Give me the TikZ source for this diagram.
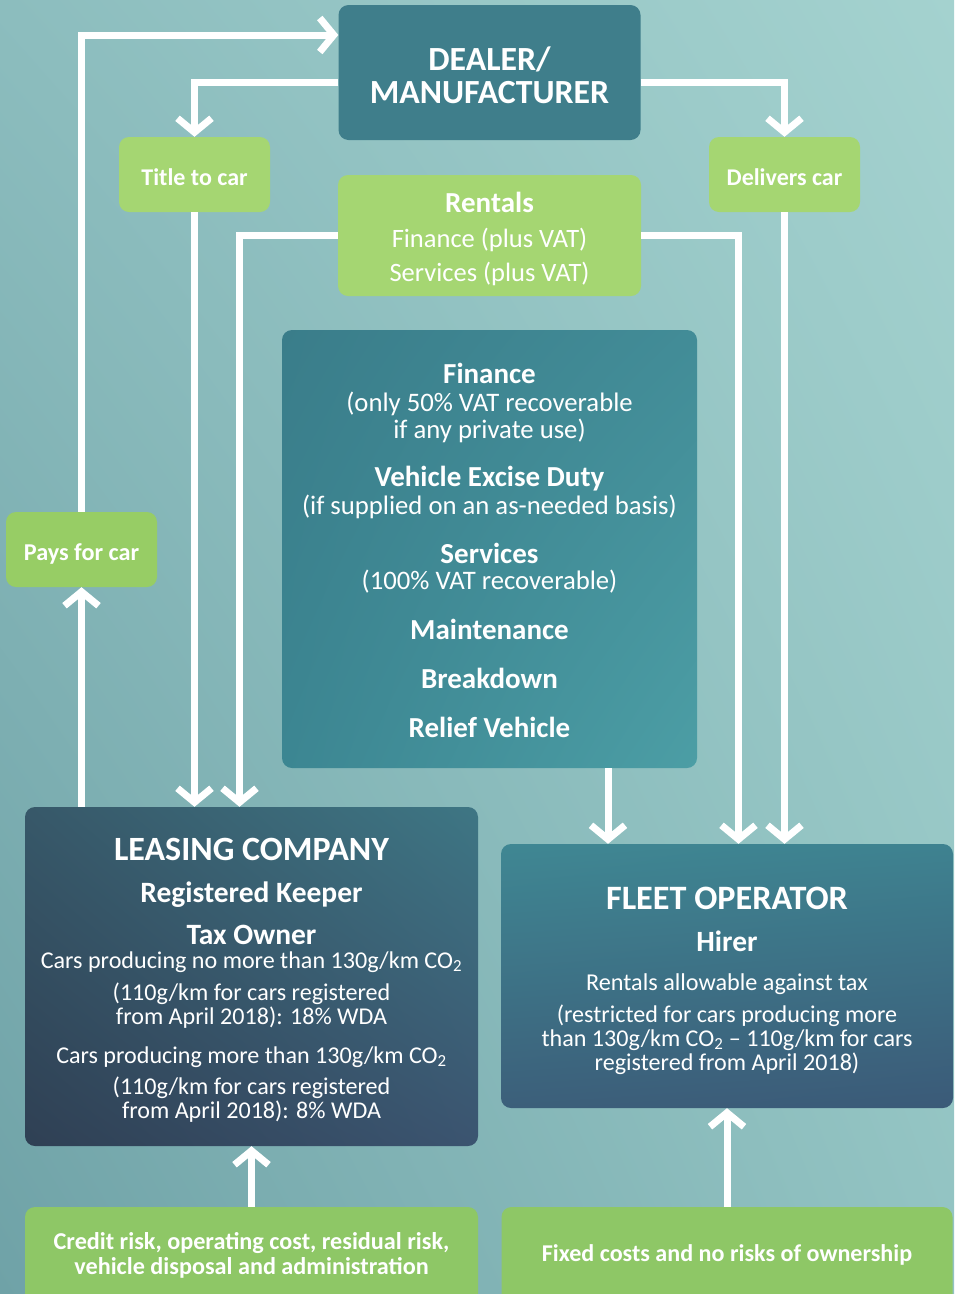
\documentclass[tikz,border=0pt]{standalone}
\usepackage{fontspec}
\setmainfont{Carlito}
\usetikzlibrary{arrows.meta,shadings}
\newcommand\fsz[1]{\fontsize{#1}{#1}\selectfont}

\definecolor{bgUL}{HTML}{8CBDBE}
\definecolor{bgUR}{HTML}{A4D2CF}
\definecolor{bgLL}{HTML}{6FA2A7}
\definecolor{bgLR}{HTML}{92C3C2}
\definecolor{leafA}{HTML}{A5D672}
\definecolor{leafB}{HTML}{97CD65}
\definecolor{leafC}{HTML}{8EC766}
\definecolor{dealerC}{HTML}{3F7E8B}
\definecolor{svUL}{RGB}{58,125,138}
\definecolor{svUR}{RGB}{66,140,151}
\definecolor{svLL}{RGB}{60,134,146}
\definecolor{svLR}{RGB}{76,158,165}
\definecolor{leUL}{RGB}{55,88,105}
\definecolor{leUR}{RGB}{62,118,132}
\definecolor{leLL}{RGB}{47,64,84}
\definecolor{leLR}{RGB}{59,84,112}
\definecolor{flUL}{RGB}{63,135,147}
\definecolor{flUR}{RGB}{62,130,144}
\definecolor{flLL}{RGB}{60,95,122}
\definecolor{flLR}{RGB}{59,90,120}

\begin{document}
\begin{tikzpicture}[x=1pt,y=-1pt,
  conn/.style={draw=white, line width=7pt, -{Straight Barb[length=14pt,width=34pt]}},
  card/.style={rounded corners=10pt, inner sep=0pt, draw=none},
  leaf/.style={card, fill=#1},
  quad/.style n args={4}{shading=bilinear interpolation, upper left=#1, upper right=#2, lower left=#3, lower right=#4},
  txt/.style={text=white, inner sep=0pt, anchor=base, yshift=-1pt},
  hd/.style={txt, font=\bfseries\fsz{#1}},
  rg/.style={txt, font=\fsz{#1}},
]
\clip (0,0) rectangle (954,1294);
\useasboundingbox (0,0) rectangle (954,1294);

% backdrop
\shade[quad={bgUL}{bgUR}{bgLL}{bgLR}] (0,0) rectangle (954,1294);

% boxes
\node[card, fill=dealerC, minimum width=302pt, minimum height=135pt] (dealer) at (489.5,72.5) {};
\node[leaf=leafA, minimum width=151pt, minimum height=75pt] (title) at (194.5,174.5) {};
\node[leaf=leafA, minimum width=151pt, minimum height=75pt] (deliv) at (784.5,174.5) {};
\node[leaf=leafA, minimum width=303pt, minimum height=121pt] (rentals) at (489.5,235.5) {};
\node[card, shade, quad={svUL}{svUR}{svLL}{svLR}, minimum width=415pt, minimum height=438pt] (svc) at (489.5,549) {};
\node[leaf=leafB, minimum width=151pt, minimum height=75pt] (pays) at (81.5,549.5) {};
\node[card, shade, quad={leUL}{leUR}{leLL}{leLR}, minimum width=453pt, minimum height=339pt] (lease) at (251.5,976.5) {};
\node[card, shade, quad={flUL}{flUR}{flLL}{flLR}, minimum width=452pt, minimum height=264pt] (fleet) at (727,976) {};
\node[leaf=leafC, minimum width=453pt, minimum height=110pt] (risk) at (251.5,1262) {};
\node[leaf=leafC, minimum width=451pt, minimum height=110pt] (fixed) at (727,1262) {};

% connectors
\draw[conn] (pays.north) |- ([yshift=37.5pt]dealer.west);
\draw[conn] ([yshift=-9.5pt]dealer.west) -| (title.north);
\draw[conn] ([yshift=-9.5pt]dealer.east) -| (deliv.north);
\draw[conn] (title.south) -- (title.south |- lease.north);
\draw[conn] (rentals.west) -| ([xshift=-12pt]lease.north);
\draw[conn] (rentals.east) -| ([xshift=11.5pt]fleet.north);
\draw[conn] (deliv.south) -- (deliv.south |- fleet.north);
\draw[conn] ([xshift=118.5pt]svc.south) -- ([xshift=118.5pt]svc.south |- fleet.north);
\draw[conn] (pays.south |- lease.north) -- (pays.south);
\draw[conn] (risk.north) -- (risk.north |- lease.south);
\draw[conn] (fixed.north) -- (fixed.north |- fleet.south);

% labels
\node[hd=33.8] (dl1) at (489.5,69) {DEALER/};
\node[hd=33.8] (dl2) at (489.5,102) {MANUFACTURER};
\node[hd=24] (ti1) at (194.5,184) {Title to car};
\node[hd=24] (de1) at (784.5,184) {Delivers car};
\node[hd=29] (re1) at (489.5,211) {Rentals};
\node[rg=26.5] (re2) at (489.5,246) {Finance (plus VAT)};
\node[rg=26.5] (re3) at (489.5,280) {Services (plus VAT)};
\node[hd=24.2] (pa1) at (81.5,559) {Pays for car};

\node[hd=29] (sv1) at (489.5,382) {Finance};
\node[rg=26.7] (sv2) at (489.5,410) {(only 50\% VAT recoverable};
\node[rg=26.7] (sv3) at (489.5,437) {if any private use)};
\node[hd=29] (sv4) at (489.5,485) {Vehicle Excise Duty};
\node[rg=26.7] (sv5) at (489.5,513) {(if supplied on an as-needed basis)};
\node[hd=29] (sv6) at (489.5,562) {Services};
\node[rg=26.7] (sv7) at (489.5,588) {(100\% VAT recoverable)};
\node[hd=29] (sv8) at (489.5,638) {Maintenance};
\node[hd=29] (sv9) at (489.5,687) {Breakdown};
\node[hd=29] (sv10) at (489.5,736) {Relief Vehicle};

\node[hd=34] (le1) at (251.5,859) {LEASING COMPANY};
\node[hd=29.5] (le2) at (251.5,901) {Registered Keeper};
\node[hd=29.5] (le3) at (251.5,943) {Tax Owner};
\node[rg=24.1] (le4) at (251.5,967) {Cars producing no more than 130g/km CO\textsubscript{2}};
\node[rg=24.1] (le5) at (251.5,999) {(110g/km for cars registered};
\node[rg=24.1] (le6) at (251.5,1023) {from April 2018): 18\% WDA};
\node[rg=24.1] (le7) at (251.5,1062) {Cars producing more than 130g/km CO\textsubscript{2}};
\node[rg=24.1] (le8) at (251.5,1093) {(110g/km for cars registered};
\node[rg=24.1] (le9) at (251.5,1117) {from April 2018): 8\% WDA};

\node[hd=34.2] (fl1) at (727,908) {FLEET OPERATOR};
\node[hd=29.4] (fl2) at (727,950) {Hirer};
\node[rg=24.2] (fl3) at (727,989) {Rentals allowable against tax};
\node[rg=24.1] (fl4) at (727,1021) {(restricted for cars producing more};
\node[rg=24.1] (fl5) at (727,1045) {than 130g/km CO\textsubscript{2} -- 110g/km for cars};
\node[rg=24.1] (fl6) at (727,1069) {registered from April 2018)};

\node[hd=24.2] (ri1) at (251.5,1248) {Credit risk, operating cost, residual risk,};
\node[hd=24.2] (ri2) at (251.5,1273) {vehicle disposal and administration};
\node[hd=24.1] (fx1) at (727,1260) {Fixed costs and no risks of ownership};
\end{tikzpicture}
\end{document}
